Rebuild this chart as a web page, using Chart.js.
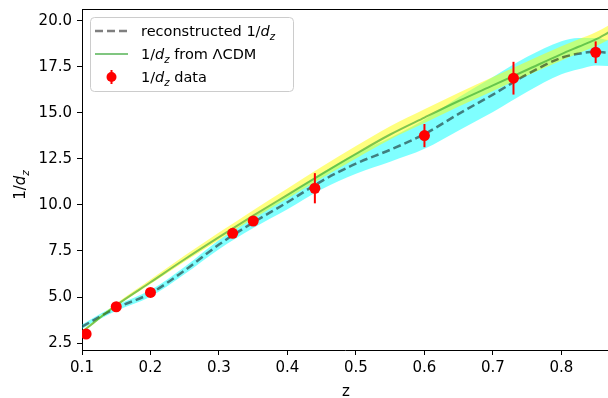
<!DOCTYPE html>
<html lang="en">
<head>
<meta charset="UTF-8">
<title>1/dz vs z</title>
<script src="https://cdn.jsdelivr.net/npm/chart.js"></script>
<style>
    body {
        margin: 0;
        background-color: #ffffff;
        overflow: hidden;
    }
</style>
</head>
<body>
<canvas id="dzChart" width="608" height="398"></canvas>
<script>
// grid of redshifts the smooth curves are sampled on
const zGrid      = [0.1, 0.15, 0.2, 0.25, 0.3, 0.35, 0.4, 0.45, 0.5, 0.55, 0.6, 0.65, 0.7, 0.75, 0.8, 0.825, 0.85, 0.87];
// reconstructed 1/dz and its 1-sigma band
const reconCurve = [3.39, 4.4, 5.2, 6.45, 7.85, 9.05, 10.15, 11.3, 12.25, 13.0, 13.85, 14.95, 16.0, 17.1, 18.0, 18.22, 18.33, 18.25];
const reconSigma = [0.12, 0.15, 0.18, 0.2, 0.25, 0.3, 0.38, 0.45, 0.55, 0.65, 0.8, 0.9, 0.95, 0.95, 0.9, 0.85, 0.75, 0.7];
// LCDM prediction and its band
const lcdmCurve  = [3.1, 4.55, 5.8, 7.05, 8.25, 9.42, 10.55, 11.68, 12.78, 13.83, 14.75, 15.65, 16.5, 17.35, 18.2, 18.6, 19.0, 19.4];
const lcdmErrLo  = [0.05, 0.07, 0.1, 0.12, 0.15, 0.17, 0.2, 0.22, 0.25, 0.27, 0.3, 0.3, 0.3, 0.32, 0.35, 0.36, 0.38, 0.4];
const lcdmErrHi  = [0.08, 0.1, 0.15, 0.2, 0.25, 0.3, 0.35, 0.4, 0.42, 0.45, 0.45, 0.45, 0.45, 0.45, 0.42, 0.4, 0.38, 0.38];

// BAO measurements
const dataZ   = [0.106, 0.15, 0.2, 0.32, 0.35, 0.44, 0.6, 0.73, 0.85];
const dataVal = [2.99, 4.47, 5.25, 8.46, 9.13, 10.91, 13.77, 16.89, 18.3];
const dataErr = [0.15, 0.2, 0.2, 0.2, 0.2, 0.82, 0.63, 0.89, 0.59];

const xTicks = [0.1, 0.2, 0.3, 0.4, 0.5, 0.6, 0.7, 0.8];
const yTicks = [2.5, 5.0, 7.5, 10.0, 12.5, 15.0, 17.5, 20.0];

const FONT = '"DejaVu Sans", sans-serif';
const FS = 15;

function pts(ys) {
    return zGrid.map((z, i) => ({ x: z, y: ys[i] }));
}

// text with 1/d_z pieces: n = normal, i = italic, s = italic subscript
function richWidth(ctx, parts, size) {
    let w = 0;
    for (const p of parts) {
        ctx.font = (p.k === 'n' ? '' : 'oblique ') + (p.k === 's' ? size * 0.7 : size) + 'px ' + FONT;
        w += ctx.measureText(p.t).width;
    }
    return w;
}
function drawRich(ctx, parts, x, y, size) {
    let cx = x;
    for (const p of parts) {
        ctx.font = (p.k === 'n' ? '' : 'oblique ') + (p.k === 's' ? size * 0.7 : size) + 'px ' + FONT;
        ctx.fillText(p.t, cx, y + (p.k === 's' ? size * 0.25 : 0));
        cx += ctx.measureText(p.t).width;
    }
}
const dzParts = [{ t: '1/', k: 'n' }, { t: 'd', k: 'i' }, { t: 'z', k: 's' }];
const legendItems = [
    { kind: 'dash', parts: [{ t: 'reconstructed ', k: 'n' }].concat(dzParts) },
    { kind: 'line', parts: dzParts.concat([{ t: ' from ΛCDM', k: 'n' }]) },
    { kind: 'dot', parts: dzParts.concat([{ t: ' data', k: 'n' }]) }
];

const decor = {
    id: 'decor',
    afterDraw(chart) {
        const ctx = chart.ctx;
        const a = chart.chartArea;
        ctx.save();
        // top spine
        ctx.strokeStyle = '#000';
        ctx.lineWidth = 1;
        ctx.beginPath();
        ctx.moveTo(a.left, a.top + 0.5);
        ctx.lineTo(a.right, a.top + 0.5);
        ctx.stroke();

        ctx.fillStyle = '#000';
        ctx.textBaseline = 'alphabetic';
        // x title
        ctx.font = FS + 'px ' + FONT;
        ctx.textAlign = 'center';
        ctx.fillText('z', (a.left + a.right) / 2 + 1, 396);
        ctx.textAlign = 'left';
        // y title
        ctx.save();
        ctx.translate(25, 185);
        ctx.rotate(-Math.PI / 2);
        const w = richWidth(ctx, dzParts, FS);
        drawRich(ctx, dzParts, -w / 2, 0, FS);
        ctx.restore();

        // legend frame
        const bx = 90, by = 17, bw = 203, bh = 74;
        ctx.fillStyle = 'rgba(255,255,255,0.8)';
        ctx.strokeStyle = '#cccccc';
        ctx.beginPath();
        ctx.roundRect(bx + 0.5, by + 0.5, bw, bh, 4);
        ctx.fill();
        ctx.stroke();

        const rows = [31, 54, 77];
        legendItems.forEach((it, i) => {
            const y = rows[i];
            ctx.save();
            if (it.kind === 'dash') {
                ctx.strokeStyle = 'rgba(0,0,0,0.5)';
                ctx.lineWidth = 2.5;
                ctx.setLineDash([8, 4]);
                ctx.beginPath();
                ctx.moveTo(95, y);
                ctx.lineTo(128, y);
                ctx.stroke();
            } else if (it.kind === 'line') {
                ctx.strokeStyle = 'rgba(44,160,44,0.6)';
                ctx.lineWidth = 2;
                ctx.beginPath();
                ctx.moveTo(95, y);
                ctx.lineTo(128, y);
                ctx.stroke();
            } else {
                ctx.strokeStyle = '#ff0000';
                ctx.lineWidth = 2;
                ctx.beginPath();
                ctx.moveTo(111.5, y - 7);
                ctx.lineTo(111.5, y + 7);
                ctx.stroke();
                ctx.fillStyle = '#ff0000';
                ctx.beginPath();
                ctx.arc(111.5, y, 5, 0, Math.PI * 2);
                ctx.fill();
            }
            ctx.restore();
            ctx.fillStyle = '#000';
            drawRich(ctx, it.parts, 141, y + 5, 14.5);
        });
        ctx.restore();
    }
};

// one small line dataset per error bar
const errorBars = dataZ.map((z, i) => ({
    type: 'line',
    data: [{ x: z, y: dataVal[i] - dataErr[i] }, { x: z, y: dataVal[i] + dataErr[i] }],
    borderColor: '#ff0000',
    borderWidth: 2,
    pointRadius: 0,
    fill: false,
    order: 1
}));

const datasets = [
    // 0: cyan band lower edge
    { data: pts(reconCurve.map((v, i) => v - reconSigma[i])), borderWidth: 0, pointRadius: 0, fill: false, order: 6, cubicInterpolationMode: 'monotone' },
    // 1: cyan band upper edge, filled down to 0
    { data: pts(reconCurve.map((v, i) => v + reconSigma[i])), borderWidth: 0, pointRadius: 0, fill: 0, backgroundColor: 'rgba(0,255,255,0.5)', order: 5, cubicInterpolationMode: 'monotone' },
    // 2: yellow band lower edge
    { data: pts(lcdmCurve.map((v, i) => v - lcdmErrLo[i])), borderWidth: 0, pointRadius: 0, fill: false, order: 6, cubicInterpolationMode: 'monotone' },
    // 3: yellow band upper edge, filled down to 2
    { data: pts(lcdmCurve.map((v, i) => v + lcdmErrHi[i])), borderWidth: 0, pointRadius: 0, fill: 2, backgroundColor: 'rgba(255,255,0,0.5)', order: 4, cubicInterpolationMode: 'monotone' },
    // 4: reconstructed curve
    { data: pts(reconCurve), borderColor: 'rgba(0,0,0,0.5)', borderWidth: 2.5, borderDash: [8, 4], pointRadius: 0, fill: false, order: 3, cubicInterpolationMode: 'monotone' },
    // 5: LCDM curve
    { data: pts(lcdmCurve), borderColor: 'rgba(44,160,44,0.6)', borderWidth: 2, pointRadius: 0, fill: false, order: 2, cubicInterpolationMode: 'monotone' },
    // 6: data points
    { type: 'scatter', data: dataZ.map((z, i) => ({ x: z, y: dataVal[i] })), backgroundColor: '#ff0000', borderWidth: 0, pointRadius: 5.5, order: 0 }
].concat(errorBars);

const axisCommon = {
    type: 'linear',
    grid: { drawOnChartArea: false, drawTicks: true, tickLength: 5, tickColor: '#000', tickWidth: 1 },
    border: { display: true, color: '#000', width: 1 }
};

function noPad(s) {
    s.paddingTop = 0;
    s.paddingBottom = 0;
    s.paddingLeft = 0;
    s.paddingRight = 0;
}

new Chart(document.getElementById('dzChart'), {
    type: 'line',
    data: { datasets: datasets },
    options: {
        responsive: false,
        animation: false,
        devicePixelRatio: 1,
        layout: { autoPadding: false, padding: { top: 9, right: 0, left: 0, bottom: 0 } },
        plugins: { legend: { display: false }, tooltip: { enabled: false } },
        elements: { line: { tension: 0 } },
        scales: {
            x: Object.assign({}, axisCommon, {
                min: 0.1,
                max: 0.868,
                afterBuildTicks: s => { s.ticks = xTicks.map(v => ({ value: v })); },
                afterFit: s => { s.height = 48; noPad(s); },
                ticks: { callback: v => v.toFixed(1), color: '#000', font: { size: FS, family: FONT }, padding: 4, maxRotation: 0, autoSkip: false }
            }),
            y: Object.assign({}, axisCommon, {
                min: 2.12,
                max: 20.65,
                afterBuildTicks: s => { s.ticks = yTicks.map(v => ({ value: v })); },
                afterFit: s => { s.width = 82; noPad(s); },
                ticks: { callback: v => v.toFixed(1), color: '#000', font: { size: FS, family: FONT }, padding: 5, autoSkip: false }
            })
        }
    },
    plugins: [decor]
});
</script>
</body>
</html>
